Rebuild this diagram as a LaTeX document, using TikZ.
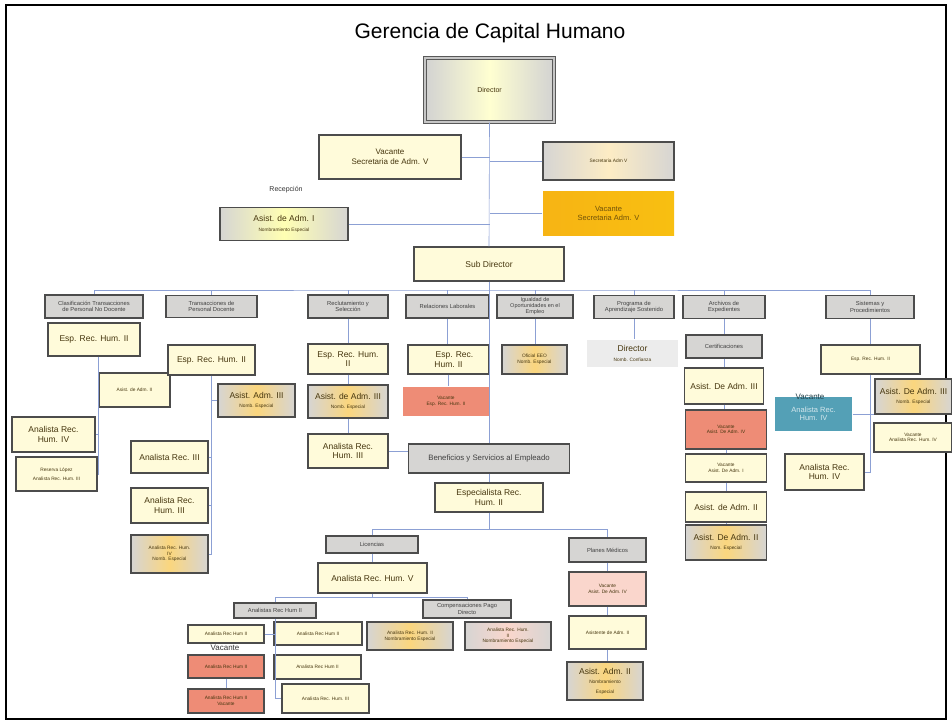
\documentclass[tikz,border=0pt]{standalone}
\usepackage{fontspec}
\setmainfont{Liberation Sans}
\usetikzlibrary{positioning,calc}
\definecolor{crema}{RGB}{255,251,218}
\definecolor{gris}{RGB}{214,213,211}
\definecolor{salmon}{RGB}{238,140,118}
\definecolor{rosa}{RGB}{250,214,204}
\definecolor{naranja}{RGB}{247,180,20}
\definecolor{turquesa}{RGB}{84,160,182}
\definecolor{texto}{RGB}{70,54,14}
\definecolor{azul}{RGB}{140,160,212}
\newcommand{\letrachica}{\fontsize{4.8}{5.6}\selectfont}
\tikzset{
  caja/.style={draw=black!70, line width=1.1pt, fill=crema, text=texto, align=center, inner sep=1pt, font=\fontsize{8.5}{9.5}\selectfont},
  area/.style={caja, fill=gris, text=black!75, font=\fontsize{5.8}{6.5}\selectfont},
  nomb/.style={caja, left color=gris, right color=gris, middle color=naranja!55},
  grisama/.style={caja, left color=gris, right color=gris, middle color=yellow!30},
  vacante/.style={caja, fill=salmon},
  jefe/.style={caja, draw=black!65, line width=1pt, double=gray!45, double distance=1.6pt, left color=gray!35, right color=gray!35, middle color=yellow!18},
  tam/.style 2 args={minimum width=#1, minimum height=#2},
  enlace/.style={draw=azul, line width=0.6pt},
}
\begin{document}
\begin{tikzpicture}[x=1pt,y=-1pt]
\useasboundingbox (0,0) rectangle (952,724);
\draw[line width=1.5pt] (6,5) rectangle (946,719);
\node[font=\fontsize{21}{24}\selectfont] (titulo) at (490,33) {Gerencia de Capital Humano};

\node[jefe, tam={129}{64}, font=\fontsize{7}{8}\selectfont] (dir) at (489.5,90) {Director};
\node[caja, tam={142}{44}, font=\fontsize{8}{9.5}\selectfont] (vsec) at (390,157) {Vacante\\Secretaria de Adm. V};
\node[caja, tam={131}{38}, left color=gris, right color=gris, middle color=naranja!25] (sec) at (608.5,161) {\letrachica Secretaria Adm V};
\node[caja, draw=none, tam={131}{44}, left color=naranja, right color=naranja!85!yellow, text=black!55!naranja, font=\fontsize{7.5}{9}\selectfont] (vsec2) at (608.5,213) {Vacante\\Secretaria Adm. V};
\node[font=\fontsize{7}{8}\selectfont, text=black!80] (recep) at (286,190) {Recepción};
\node[grisama, tam={128}{33}] (asist1) at (284,224) {Asist. de Adm. I\\{\letrachica Nombramiento Especial}};
\node[caja, tam={150}{34}] (sub) at (489,264) {Sub Director};
\coordinate (barra) at (489,290);

\node[area, tam={98}{23}] (clas) at (94,306.5) {Clasificación Transacciones\\de Personal No Docente};
\node[area, tam={91}{22}] (trans) at (211.5,306.5) {Transacciones de\\Personal Docente};
\node[area, tam={80}{23}] (recl) at (348,306.5) {Reclutamiento y\\Selección};
\node[area, tam={83}{23}] (rel) at (447.5,306.5) {Relaciones Laborales};
\node[area, tam={76}{23}, font=\fontsize{5.5}{6}\selectfont] (igu) at (535,306.5) {Igualdad de\\Oportunidades en el\\Empleo};
\node[area, tam={80}{23}] (prog) at (634,307) {Programa de\\Aprendizaje Sostenido};
\node[area, tam={82}{23}] (arch) at (724,307) {Archivos de\\Expedientes};
\node[area, tam={88}{23}] (sist) at (870,307) {Sistemas y\\Procedimientos};

\node[caja, tam={92}{33}] (esp1) at (94,339.5) {Esp. Rec. Hum. II};
\node[caja, tam={71}{34}] (asis1b) at (134.5,390) {\letrachica Asist. de Adm. II};
\node[caja, tam={83}{35}] (ana1) at (53.5,434.5) {Analista Rec.\\Hum. IV};
\node[caja, tam={81}{34}] (res1) at (56.5,474) {\letrachica Reserva López\\\letrachica Analista Rec. Hum. III};

\node[caja, tam={87}{30}] (esp2) at (211.5,360) {Esp. Rec. Hum. II};
\node[nomb, tam={77}{33}] (asis2) at (256.5,400.5) {Asist. Adm. III\\{\letrachica Nomb. Especial}};
\node[caja, tam={77}{32}] (ana2a) at (169.5,457) {Analista Rec. III};
\node[caja, tam={77}{35}] (ana2b) at (169.5,505.5) {Analista Rec.\\Hum. III};
\node[nomb, tam={77}{38}, font=\letrachica] (ana2c) at (169.5,554) {Analista Rec. Hum.\\IV\\Nomb. Especial};

\node[caja, tam={80}{30}] (esp3) at (348,359) {Esp. Rec. Hum.\\II};
\node[nomb, tam={80}{33}] (asis3) at (348,401.5) {Asist. de Adm. III\\{\letrachica Nomb. Especial}};
\node[caja, tam={80}{34}] (ana3) at (348,451) {Analista Rec.\\Hum. III};

\node[caja, tam={81}{29}] (esp4) at (448.5,359.5) {\hspace*{1.4em}Esp. Rec.\\Hum. II};
\node[vacante, draw=none, tam={86}{29}, font=\letrachica] (vac4) at (446,401.5) {Vacante\\Esp. Rec. Hum. II};

\node[nomb, tam={65}{29}, font=\letrachica] (ofi5) at (534.5,359.5) {Oficial EEO\\Nomb. Especial};

\node[caja, draw=none, fill=gray!15, tam={91}{27}] (dir6) at (632.5,353.5) {Director\\{\letrachica Nomb. Confianza}};

\node[area, tam={76}{23}] (cert) at (724,346.5) {Certificaciones};
\node[caja, tam={79}{36}] (asis7a) at (724,386) {Asist. De Adm. III};
\node[vacante, tam={81}{39}, font=\letrachica] (vac7) at (726,429.5) {Vacante\\Asist. De Adm. IV};
\node[caja, tam={81}{28}, font=\letrachica] (vac7b) at (726,468) {Vacante\\Asist. De Adm. I};
\node[caja, tam={81}{30}] (asis7b) at (726,507) {Asist. de Adm. II};
\node[nomb, tam={81}{35}] (asis7c) at (726,542.5) {Asist. De Adm. II\\{\letrachica Nom. Especial}};

\node[caja, tam={99}{29}, font=\letrachica] (esp8) at (870.5,359.5) {Esp. Rec. Hum. II};
\node[nomb, tam={77}{35}] (asis8) at (913.5,396.5) {Asist. De Adm. III\\{\letrachica Nomb. Especial}};
\node[caja, tam={78}{29}, font=\letrachica] (vac8) at (913,437.5) {Vacante\\Analista Rec. Hum. IV};
\node[caja, draw=none, fill=turquesa, text=white!75!turquesa, tam={77}{34}, font=\fontsize{7.5}{8.5}\selectfont] (vac8b) at (813.5,414) {Analista Rec.\\Hum. IV};
\node[font=\fontsize{8}{9}\selectfont, text=black!60!turquesa] (lvac8) at (810,397) {Vacante};
\node[caja, tam={79}{36}] (ana8) at (824.5,472) {Analista Rec.\\Hum. IV};

\node[area, tam={161}{29}, font=\fontsize{7.8}{9}\selectfont] (bene) at (489,458.5) {Beneficios y Servicios al Empleado};
\node[caja, tam={108}{29}] (espb) at (489,497.5) {Especialista Rec.\\Hum. II};
\coordinate (barra2) at (489,529);
\node[area, tam={92}{17}] (lic) at (372,544.5) {Licencias};
\node[area, tam={77}{24}] (plan) at (607.5,550) {Planes Médicos};
\node[caja, tam={109}{30}] (ana5) at (372.5,578) {Analista Rec. Hum. V};
\coordinate (barra3) at (372.5,597);
\node[area, tam={82}{15}] (anas) at (275,610.5) {Analistas Rec Hum II};
\node[area, tam={88}{18}] (comp) at (467,609) {Compensaciones Pago\\Directo};
\node[caja, tam={76}{18}, font=\letrachica] (a1) at (226,634) {Analista Rec Hum II};
\node[caja, tam={88}{23}, font=\letrachica] (a2) at (318,633.5) {Analista Rec Hum II};
\node[font=\fontsize{8}{9}\selectfont, text=black!80] (lvac) at (225,648) {Vacante};
\node[vacante, tam={76}{23}, font=\letrachica] (a3) at (226,666.5) {Analista Rec Hum II};
\node[caja, tam={87}{24}, font=\letrachica] (a4) at (317.5,667) {Analista Rec Hum II};
\node[vacante, tam={76}{24}, font=\letrachica] (a5) at (226,701) {Analista Rec Hum II\\Vacante};
\node[caja, tam={87}{29}, font=\letrachica] (a6) at (325.5,698.5) {Analista Rec. Hum. III};
\node[nomb, tam={86}{28}, font=\letrachica] (a7) at (410,636) {Analista Rec. Hum. II\\Nombramiento Especial};
\node[nomb, tam={86}{28}, middle color=rosa, font=\letrachica] (a8) at (508,636) {Analista Rec. Hum.\\II\\Nombramiento Especial};
\node[caja, fill=rosa, tam={77}{34}, font=\letrachica] (p1) at (607.5,589) {Vacante\\Asist. De Adm. IV};
\node[caja, tam={77}{33}, font=\letrachica] (p2) at (607.5,632.5) {Asistente de Adm. II};
\node[nomb, tam={76}{38}] (p3) at (605,681) {Asist. Adm. II\\{\letrachica Nombramiento}\\{\letrachica Especial}};

\draw[enlace] (dir.south) -- (sub.north);
\draw[enlace] (vsec.east) -- (vsec.east -| dir.south);
\draw[enlace] (sec.west) -- (sec.west -| dir.south);
\draw[enlace] (vsec2.west) -- (vsec2.west -| dir.south);
\draw[enlace] (asist1.east) -- (asist1.east -| dir.south);
\draw[enlace] (sub.south) -- (barra);
\draw[enlace] (clas.north) |- (barra) -| (sist.north);
\foreach \n in {trans,recl,rel,igu,prog,arch}
  \draw[enlace] (\n.north) -- (\n.north |- barra);
\draw[enlace] (barra) -- (bene.north);

\coordinate (c1) at (98,0);
\draw[enlace] (esp1.south -| c1) |- (res1.east);
\draw[enlace] (asis1b.west -| c1) -- (asis1b.west);
\draw[enlace] (ana1.east -| c1) -- (ana1.east);
\draw[enlace] (esp2.south) |- (ana2c.east);
\draw[enlace] (asis2.west -| esp2.south) -- (asis2.west);
\draw[enlace] (ana2a.east) -- (ana2a.east -| esp2.south);
\draw[enlace] (ana2b.east) -- (ana2b.east -| esp2.south);

\draw[enlace] (recl.south) -- (esp3.north) (esp3.south) -- (asis3.north) (asis3.south) -- (ana3.north);
\draw[enlace] (ana3.east) -- (ana3.east -| bene.west);
\draw[enlace] (rel.south) -- (rel.south |- esp4.north) (esp4.south) -- (esp4.south |- vac4.north);
\draw[enlace] (igu.south) -- (igu.south |- ofi5.north);
\draw[enlace] (prog.south) -- (prog.south |- dir6.north);
\foreach \a/\b in {arch/cert,cert/asis7a,asis7a/vac7,vac7/vac7b,vac7b/asis7b,asis7b/asis7c}
  \draw[enlace] (\a.south) -- (\a.south |- \b.north);
\draw[enlace] (sist.south) -- (sist.south |- esp8.north);
\draw[enlace] (esp8.south) |- (ana8.east);
\draw[enlace] (vac8b.east) -- (vac8b.east -| asis8.west);

\draw[enlace] (bene.south) -- (espb.north);
\draw[enlace] (espb.south) -- (barra2);
\draw[enlace] (lic.north) |- (barra2) -| (plan.north);
\draw[enlace] (lic.south) -- (lic.south |- ana5.north);
\foreach \a/\b in {plan/p1,p1/p2,p2/p3}
  \draw[enlace] (\a.south) -- (\a.south |- \b.north);
\draw[enlace] (ana5.south) -- (barra3);
\draw[enlace] (anas.north) |- (barra3) -| (comp.north);
\draw[enlace] (anas.south) |- (a6.west);
\draw[enlace] (a1.east) -- (a1.east -| anas.south);
\draw[enlace] (a3.south) -- (a5.north);
\end{tikzpicture}
\end{document}
